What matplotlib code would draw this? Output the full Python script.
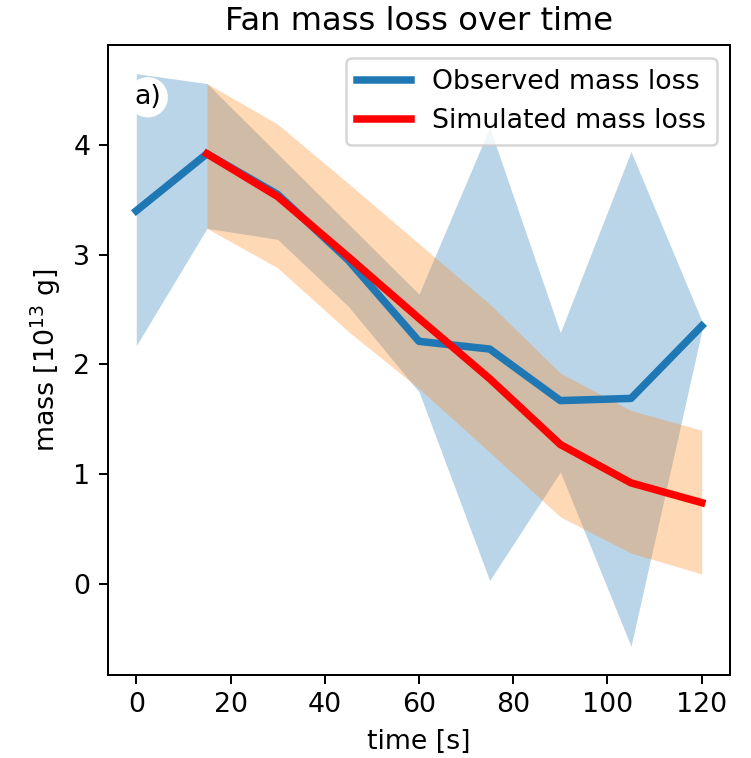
import numpy as np
import matplotlib
matplotlib.use("Agg")
import matplotlib.pyplot as plt

# time steps [s]
t_obs = [0, 15, 30, 45, 60, 75, 90, 105, 120]
t_sim = [15, 30, 45, 60, 75, 90, 105, 120]

# observed mass loss and its spread [1e13 g]
obs_mean = [3.40, 3.92, 3.55, 2.95, 2.21, 2.14, 1.67, 1.69, 2.35]
obs_low = [2.17, 3.24, 3.14, 2.53, 1.75, 0.03, 1.02, -0.57, 2.30]
obs_high = [4.65, 4.56, 3.92, 3.28, 2.64, 4.16, 2.29, 3.94, 2.40]

# simulated mass loss and its spread [1e13 g]
sim_mean = [3.92, 3.53, 2.98, 2.42, 1.87, 1.27, 0.92, 0.74]
sim_low = [3.24, 2.88, 2.30, 1.78, 1.20, 0.61, 0.28, 0.09]
sim_high = [4.56, 4.19, 3.65, 3.10, 2.55, 1.92, 1.58, 1.40]

plt.rcParams["font.size"] = 10.7

fig = plt.figure(figsize=(751 / 180, 758 / 180), dpi=180)
ax = fig.add_axes([0.1438, 0.1095, 0.8282, 0.8311])

ax.fill_between(t_obs, obs_low, obs_high, color="C0", alpha=0.3, lw=0)
ax.fill_between(t_sim, sim_low, sim_high, color="C1", alpha=0.3, lw=0)
ax.plot(t_obs, obs_mean, color="C0", lw=3, label="Observed mass loss")
ax.plot(t_sim, sim_mean, color="red", lw=3, label="Simulated mass loss")

ax.text(0.064, 0.917, "a)", transform=ax.transAxes, fontsize=10.7,
        ha="center", va="center",
        bbox=dict(boxstyle="circle,pad=0.25", fc="white", ec="none"))

ax.set_title("Fan mass loss over time", fontsize=12.9)
ax.set_xlabel("time [s]")
ax.set_ylabel("mass [10$^{13}$ g]")
ax.set_xticks([0, 20, 40, 60, 80, 100, 120])
ax.set_yticks([0, 1, 2, 3, 4])
ax.legend(loc="upper right")

fig.savefig("out.png", dpi=180)
